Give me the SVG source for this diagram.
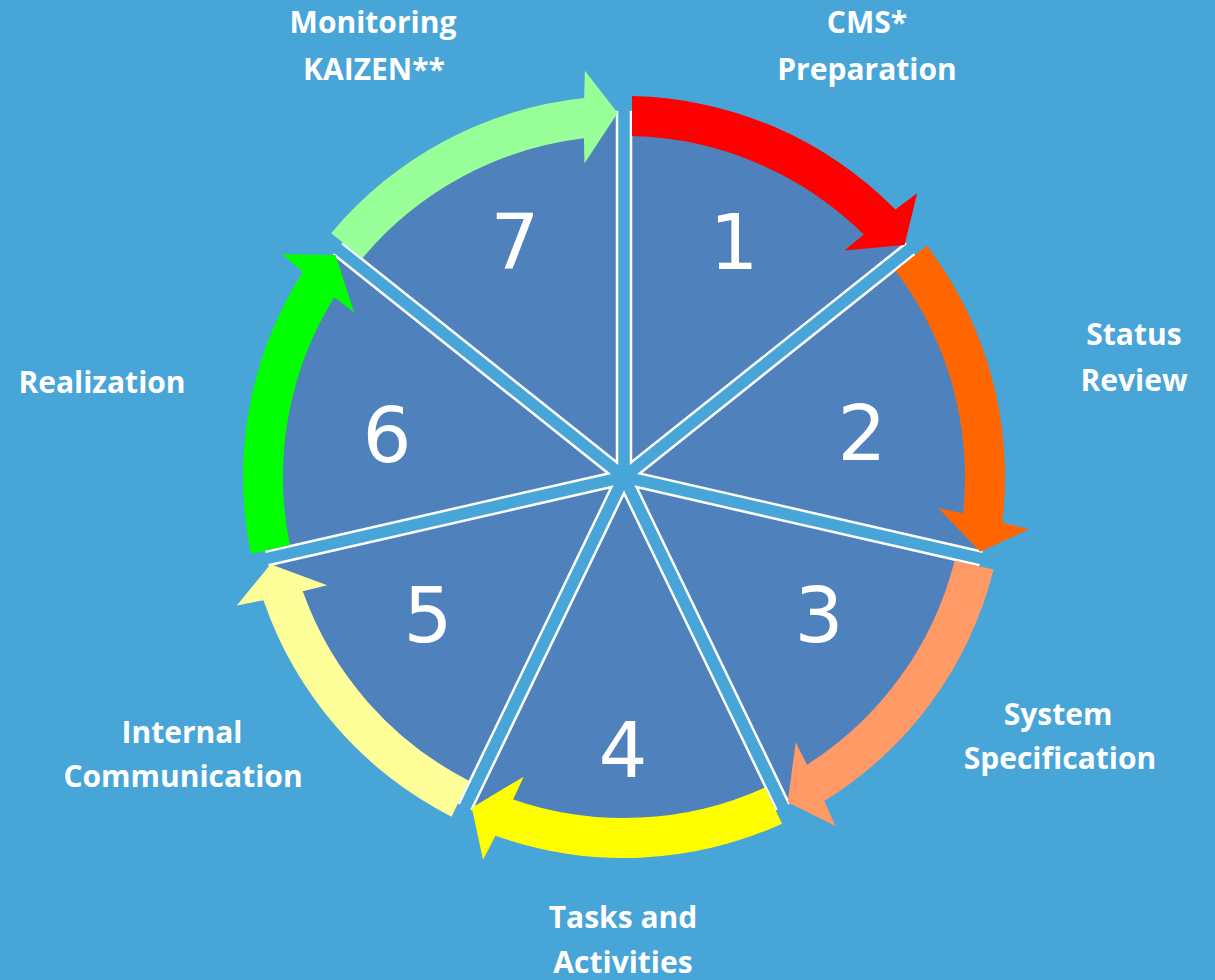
<svg xmlns="http://www.w3.org/2000/svg" xmlns:xlink="http://www.w3.org/1999/xlink" width="1215" height="980" viewBox="0 0 1215 980">
  <style>
    .slice { fill: #4F81BD; stroke: #FFFFFF; stroke-width: 2.5; stroke-linejoin: miter; }
    .num { font-family: "DejaVu Sans", "Liberation Sans", sans-serif; font-size: 77px; fill: #FFFFFF; text-anchor: middle; }
    .lbl { font-family: "Open Sans", "Liberation Sans", sans-serif; font-size: 30px; font-weight: bold; fill: #FFFFFF; text-anchor: middle; }
  </style>
  <defs>
    <path id="wedge" class="slice" d="M 631.00 462.47 L 631.00 112.07 A 365 365 0 0 1 904.95 244.00 Z"/>
    <path id="arc" d="M 632.00 96.08 A 381 381 0 0 1 895.42 209.62 L 917.14 193.21 L 904.58 245.12 L 844.42 250.57 L 863.81 234.57 A 341 341 0 0 0 632.00 136.09 Z"/>
  </defs>
  <rect x="0" y="0" width="1215" height="980" fill="#48A5D8"/>

  <g id="step1">
    <use xlink:href="#wedge" href="#wedge"/>
    <text class="num" x="734" y="269">1</text>
    <text class="lbl" x="867" y="33">CMS*</text>
    <text class="lbl" x="867" y="80">Preparation</text>
  </g>
  <g id="step2">
    <use xlink:href="#wedge" href="#wedge" transform="rotate(51.4286 624 477)"/>
    <text class="num" x="862" y="460">2</text>
    <text class="lbl" x="1134" y="345">Status</text>
    <text class="lbl" x="1134" y="391">Review</text>
  </g>
  <g id="step3">
    <use xlink:href="#wedge" href="#wedge" transform="rotate(102.8571 624 477)"/>
    <text class="num" x="819" y="642">3</text>
    <text class="lbl" x="1058" y="725">System</text>
    <text class="lbl" x="1060" y="769">Specification</text>
  </g>
  <g id="step4">
    <use xlink:href="#wedge" href="#wedge" transform="rotate(154.2857 624 477)"/>
    <text class="num" x="623" y="777">4</text>
    <text class="lbl" x="623" y="928">Tasks and</text>
    <text class="lbl" x="623" y="973">Activities</text>
  </g>
  <g id="step5">
    <use xlink:href="#wedge" href="#wedge" transform="rotate(205.7143 624 477)"/>
    <text class="num" x="428" y="642">5</text>
    <text class="lbl" x="182" y="743">Internal</text>
    <text class="lbl" x="183" y="787">Communication</text>
  </g>
  <g id="step6">
    <use xlink:href="#wedge" href="#wedge" transform="rotate(257.1429 624 477)"/>
    <text class="num" x="387" y="462">6</text>
    <text class="lbl" x="102" y="393">Realization</text>
  </g>
  <g id="step7">
    <use xlink:href="#wedge" href="#wedge" transform="rotate(308.5714 624 477)"/>
    <text class="num" x="515" y="269">7</text>
    <text class="lbl" x="373" y="33">Monitoring</text>
    <text class="lbl" x="374" y="80">KAIZEN**</text>
  </g>

  <g id="connectors">
    <use xlink:href="#arc" href="#arc" fill="#FF0000"/>
    <use xlink:href="#arc" href="#arc" fill="#FF6600" transform="rotate(51.4286 624 477)"/>
    <use xlink:href="#arc" href="#arc" fill="#FF9966" transform="rotate(102.8571 624 477)"/>
    <use xlink:href="#arc" href="#arc" fill="#FFFF00" transform="rotate(154.2857 624 477)"/>
    <use xlink:href="#arc" href="#arc" fill="#FFFF99" transform="rotate(205.7143 624 477)"/>
    <use xlink:href="#arc" href="#arc" fill="#00FF00" transform="rotate(257.1429 624 477)"/>
    <use xlink:href="#arc" href="#arc" fill="#99FF99" transform="rotate(308.5714 624 477)"/>
  </g>
</svg>
